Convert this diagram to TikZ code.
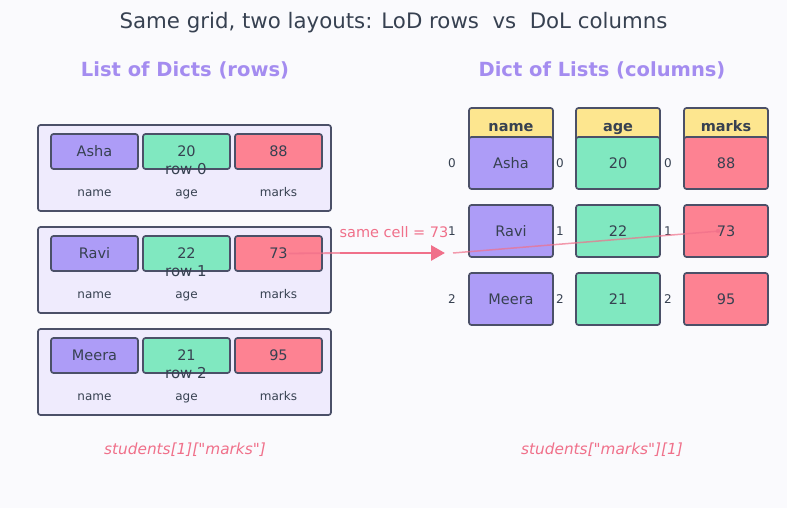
\documentclass[tikz,border=0pt]{standalone}
\usepackage{fontspec}
\setmainfont{DejaVu Sans}[Ligatures=TeXOff]
\usetikzlibrary{arrows.meta}
\definecolor{bgc}{HTML}{FAFAFD}
\definecolor{txt}{HTML}{374151}
\definecolor{bord}{HTML}{4B5068}
\definecolor{lav}{HTML}{EFEBFD}
\definecolor{cpur}{HTML}{AD9CF7}
\definecolor{cgrn}{HTML}{80E8C0}
\definecolor{cred}{HTML}{FD8292}
\definecolor{cyel}{HTML}{FDE68F}
\definecolor{ttl}{HTML}{A48CF0}
\definecolor{pinkc}{HTML}{F0708A}
\tikzset{
  cell/.style={draw=bord, line width=1.7pt, rounded corners=2.5pt, text=txt, font=\fontsize{14.5}{17}\selectfont, inner sep=0pt, text height=10.6pt, text depth=0pt},
  lcell/.style={cell, minimum width=87pt, minimum height=35pt},
  rcell/.style={cell, minimum width=84pt, minimum height=52pt},
  hcell/.style={cell, fill=cyel, minimum width=84pt, minimum height=36pt, font=\bfseries\fontsize{14.5}{17}\selectfont},
  outer/.style={draw=bord, line width=1.7pt, rounded corners=2.5pt, fill=lav, minimum width=293pt, minimum height=86pt, inner sep=0pt},
  keylbl/.style={text=txt, font=\fontsize{12}{14}\selectfont, text height=8.8pt, text depth=0pt, inner sep=0pt},
  rowlbl/.style={text=txt, font=\fontsize{15}{17}\selectfont},
  idx/.style={text=txt, font=\fontsize{12}{14}\selectfont},
  ttlbl/.style={text=ttl, font=\bfseries\fontsize{19.5}{23}\selectfont},
  acc/.style={text=pinkc, font=\itshape\fontsize{15.3}{18}\selectfont},
  faint/.style={draw=pinkc, opacity=0.7, line width=1.8pt},
}
\begin{document}
\begin{tikzpicture}[x=1pt,y=-1pt]
\fill[bgc] (0,0) rectangle (787,508);
\useasboundingbox (0,0) rectangle (787,508);
\node[text=txt, font=\fontsize{21.3}{25}\selectfont] (title) at (393.5,23) {Same grid, two layouts: LoD rows\ \ vs\ \ DoL columns};
\node[ttlbl] (lt) at (185,70) {List of Dicts (rows)};
\node[ttlbl] (rt) at (602,70) {Dict of Lists (columns)};
% left panel
\foreach \i/\n/\a/\m in {0/Asha/20/88, 1/Ravi/22/73, 2/Meera/21/95}{
  \pgfmathsetmacro{\yo}{102*\i}
  \node[outer] (lo\i) at (184.5,168+\yo) {};
  \node[lcell, fill=cpur] (ln\i) at (94.5,151.5+\yo) {\n};
  \node[lcell, fill=cgrn] (la\i) at (186.5,151.5+\yo) {\a};
  \node[lcell, fill=cred] (lm\i) at (278.5,151.5+\yo) {\m};
  \node[keylbl] (kn\i) at (94.5,192+\yo) {name};
  \node[keylbl] (ka\i) at (186.5,192+\yo) {age};
  \node[keylbl] (km\i) at (278.5,192+\yo) {marks};
  \node[rowlbl] (rl\i) at (186,169+\yo) {row \i};
}
% right panel headers
\node[hcell] (hn) at (511,126) {name};
\node[hcell] (ha) at (618,126) {age};
\node[hcell] (hm) at (726,126) {marks};
\foreach \i/\n/\a/\m in {0/Asha/20/88, 1/Ravi/22/73, 2/Meera/21/95}{
  \pgfmathsetmacro{\yc}{163+68*\i}
  \node[rcell, fill=cpur] (rn\i) at (511,\yc) {\n};
  \node[rcell, fill=cgrn] (ra\i) at (618,\yc) {\a};
  \node[rcell, fill=cred] (rm\i) at (726,\yc) {\m};
  \node[idx] (in\i) at (452,\yc) {\i};
  \node[idx] (ia\i) at (560,\yc) {\i};
  \node[idx] (im\i) at (668,\yc) {\i};
}
% connectors
\coordinate (as) at (340,253);
\coordinate (ae) at (445,253);
\coordinate (fe) at (453,253);
\draw[faint] ([xshift=10pt]lm1.center) -- (as);
\draw[faint, line width=1.5pt] (fe) -- ([xshift=-6pt]rm1.center);
\fill[pinkc, opacity=0.7] ([xshift=-8pt]rm1.center) circle (2.2pt);
\draw[pinkc, line width=2.8pt, -{Triangle[length=14pt,width=15pt]}] (as) -- (ae);
\node[text=pinkc, font=\fontsize{14.5}{17}\selectfont] (sc) at (394,232) {same cell = 73};
% accessors
\node[acc] (accl) at (185,450) {students[1]["marks"]};
\node[acc] (accr) at (602,450) {students["marks"][1]};
\end{tikzpicture}
\end{document}
